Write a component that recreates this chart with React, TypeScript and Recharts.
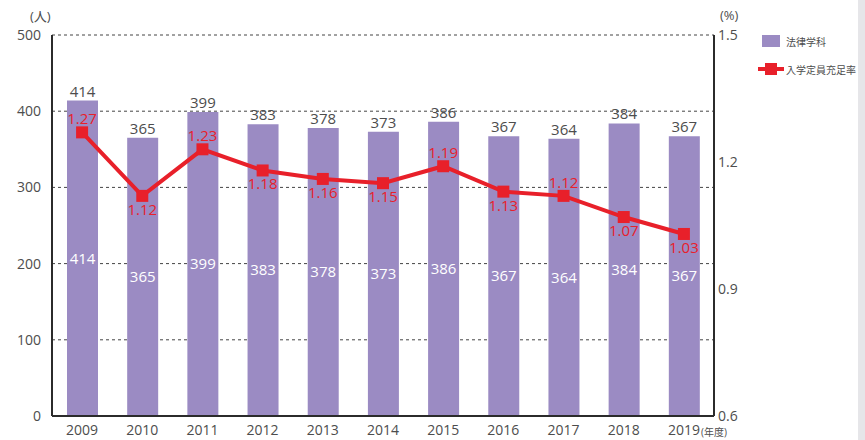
import {
    ComposedChart,
    Bar,
    Line,
    XAxis,
    YAxis,
    CartesianGrid,
    LabelList,
} from 'recharts';

const years = ['2009', '2010', '2011', '2012', '2013', '2014', '2015', '2016', '2017', '2018', '2019'];
const students = [414, 365, 399, 383, 378, 373, 386, 367, 364, 384, 367];
const fillRate = [1.27, 1.12, 1.23, 1.18, 1.16, 1.15, 1.19, 1.13, 1.12, 1.07, 1.03];
const leftTicks = [0, 100, 200, 300, 400, 500];
const rightTicks = [0.6, 0.9, 1.2, 1.5];

const PURPLE = '#9b8bc3';
const RED = '#e8202a';
const TEXT = '#4d4d4d';
const FONT = '"Open Sans", "Noto Sans CJK JP", sans-serif';

const data = years.map((y, i) => ({ year: y, students: students[i], rate: fillRate[i] }));

// label above the marker when the point sits above its neighbours' average
const labelAbove = (i: number) => {
    const nb: number[] = [];
    if (i > 0) nb.push(fillRate[i - 1]);
    if (i < fillRate.length - 1) nb.push(fillRate[i + 1]);
    const avg = nb.reduce((a, b) => a + b, 0) / nb.length;
    return fillRate[i] > avg;
};

const RateLabel = (props: any) => {
    const { x, y, value, index } = props;
    const above = labelAbove(index);
    return (
        <text
            x={x}
            y={above ? y - 8 : y + 19}
            textAnchor="middle"
            fill={RED}
            fontSize={15}
            fontFamily={FONT}
        >
            {Number(value).toFixed(2)}
        </text>
    );
};

const SquareDot = (props: any) => {
    const { cx, cy, index } = props;
    return <rect key={'d' + index} x={cx - 6} y={cy - 6} width={12} height={12} fill={RED} />;
};

const LegendBox = () => (
    <div style={{ position: 'absolute', left: 758, top: 34, fontFamily: FONT, fontSize: 10, color: TEXT }}>
        <div style={{ display: 'flex', alignItems: 'center', height: 14 }}>
            <span style={{ display: 'inline-block', width: 18, height: 12, background: PURPLE, marginLeft: 4, marginRight: 6 }} />
            法律学科
        </div>
        <div style={{ display: 'flex', alignItems: 'center', height: 14, marginTop: 14 }}>
            <svg width={28} height={12}>
                <line x1={0} y1={6} x2={26} y2={6} stroke={RED} strokeWidth={4} />
                <rect x={7} y={0} width={12} height={12} fill={RED} />
            </svg>
            入学定員充足率
        </div>
    </div>
);

export default function App() {
    return (
        <div style={{ position: 'fixed', left: 0, top: 0, width: 865, height: 440, background: '#fff', fontFamily: FONT }}>
            <ComposedChart
                width={858}
                height={440}
                data={data}
                margin={{ top: 35, right: 104, bottom: 0, left: 0 }}
            >
                <CartesianGrid yAxisId="left" vertical={false} stroke="#444" strokeDasharray="3 3" />
                <XAxis
                    dataKey="year"
                    height={24}
                    tickSize={0}
                    tickMargin={9}
                    axisLine={{ stroke: '#2b2b2b', strokeWidth: 2 }}
                    tick={{ fill: TEXT, fontSize: 14, fontFamily: FONT }}
                />
                <YAxis
                    yAxisId="left"
                    width={52}
                    domain={[0, 500]}
                    ticks={leftTicks}
                    tickSize={0}
                    tickMargin={11}
                    axisLine={{ stroke: '#2b2b2b', strokeWidth: 2 }}
                    tick={{ fill: TEXT, fontSize: 14, fontFamily: FONT }}
                />
                <YAxis
                    yAxisId="right"
                    orientation="right"
                    width={40}
                    domain={[0.6, 1.5]}
                    ticks={rightTicks}
                    tickSize={0}
                    tickMargin={4}
                    tickFormatter={(v: number) => String(v)}
                    axisLine={{ stroke: '#2b2b2b', strokeWidth: 2 }}
                    tick={{ fill: TEXT, fontSize: 14, fontFamily: FONT, textAnchor: 'start' }}
                />
                <Bar yAxisId="left" dataKey="students" name="法律学科" fill={PURPLE} barSize={31} isAnimationActive={false}>
                    <LabelList dataKey="students" position="top" offset={4} fill={TEXT} fontSize={15} fontFamily={FONT} />
                    <LabelList dataKey="students" position="center" fill="#ffffff" fontSize={15} fontFamily={FONT} />
                </Bar>
                <Line
                    yAxisId="right"
                    dataKey="rate"
                    name="入学定員充足率"
                    stroke={RED}
                    strokeWidth={4}
                    dot={SquareDot}
                    activeDot={false}
                    isAnimationActive={false}
                >
                    <LabelList dataKey="rate" content={RateLabel} />
                </Line>
            </ComposedChart>
            <LegendBox />
            <div style={{ position: 'absolute', left: 30, top: 6, fontSize: 13, color: TEXT }}>(人)</div>
            <div style={{ position: 'absolute', left: 720, top: 6, fontSize: 13, color: TEXT }}>(%)</div>
            <div style={{ position: 'absolute', left: 701, top: 424, fontSize: 10, color: TEXT }}>(年度)</div>
            <div style={{ position: 'absolute', left: 858, top: 0, width: 7, height: 440, background: '#e6e6e9' }} />
        </div>
    );
}
